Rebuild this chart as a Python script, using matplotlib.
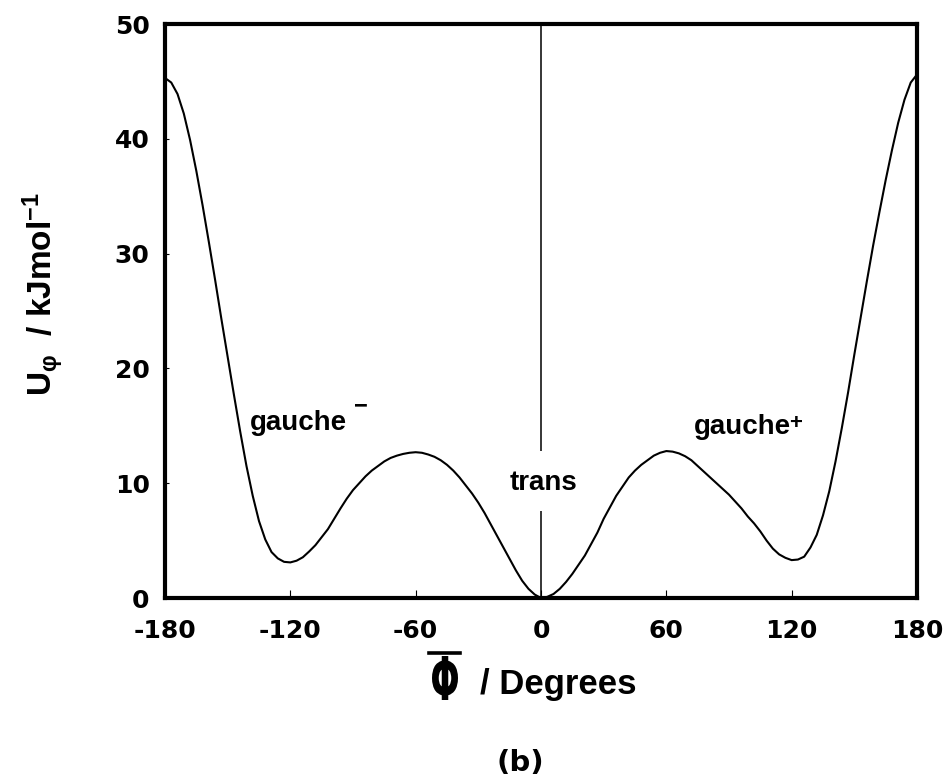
import matplotlib
matplotlib.use("Agg")
import matplotlib.pyplot as plt
from matplotlib import transforms
from matplotlib.font_manager import FontProperties
from matplotlib.lines import Line2D
from matplotlib.patches import PathPatch
from matplotlib.textpath import TextPath

plt.rcParams["font.family"] = ["DejaVu Sans"]
plt.rcParams["font.weight"] = "bold"
plt.rcParams["axes.unicode_minus"] = False
plt.rcParams["mathtext.fontset"] = "custom"
plt.rcParams["mathtext.rm"] = "Liberation Sans:bold"
plt.rcParams["mathtext.it"] = "Liberation Sans:bold"
plt.rcParams["mathtext.bf"] = "Liberation Sans:bold"

# torsion angle (degrees) and torsional energy (kJ/mol)
phi = [-180, -177, -174, -171, -168, -165, -162, -159, -156, -153, -150,
       -147, -144, -141, -138, -135, -132, -129, -126, -123, -120,
       -117, -114, -111, -108, -105, -102, -99, -96, -93, -90,
       -87, -84, -81, -78, -75, -72, -69, -66, -63, -60,
       -57, -54, -51, -48, -45, -42, -39, -36, -33, -30,
       -27, -24, -21, -18, -15, -12, -9, -6, -3, 0,
       3, 6, 9, 12, 15, 18, 21, 24, 27, 30,
       33, 36, 39, 42, 45, 48, 51, 54, 57, 60,
       63, 66, 69, 72, 75, 78, 81, 84, 87, 90,
       93, 96, 99, 102, 105, 108, 111, 114, 117, 120,
       123, 126, 129, 132, 135, 138, 141, 144, 147, 150,
       153, 156, 159, 162, 165, 168, 171, 174, 177, 180]
u = [45.3, 44.9, 43.9, 42.2, 39.9, 37.2, 34.2, 31.0, 27.7, 24.3, 21.0,
     17.7, 14.5, 11.5, 8.9, 6.7, 5.1, 4.0, 3.45, 3.15, 3.1,
     3.25, 3.55, 4.05, 4.6, 5.3, 6.0, 6.9, 7.8, 8.65, 9.4,
     10.0, 10.6, 11.1, 11.5, 11.9, 12.2, 12.4, 12.55, 12.65, 12.7,
     12.65, 12.5, 12.3, 12.0, 11.6, 11.1, 10.5, 9.8, 9.1, 8.3,
     7.4, 6.4, 5.4, 4.4, 3.4, 2.4, 1.5, 0.8, 0.3, 0.0,
     0.1, 0.35, 0.8, 1.4, 2.1, 2.9, 3.7, 4.7, 5.7, 6.9,
     7.9, 8.9, 9.7, 10.5, 11.1, 11.6, 12.0, 12.4, 12.65, 12.8,
     12.75, 12.6, 12.35, 12.0, 11.5, 11.0, 10.5, 10.0, 9.5, 9.0,
     8.4, 7.8, 7.1, 6.5, 5.8, 5.0, 4.3, 3.8, 3.5, 3.3,
     3.35, 3.6, 4.4, 5.5, 7.2, 9.3, 11.9, 14.8, 17.9, 21.2,
     24.4, 27.6, 30.7, 33.6, 36.4, 39.0, 41.4, 43.4, 44.9, 45.6]

xticks = [-180, -120, -60, 0, 60, 120, 180]
yticks = [0, 10, 20, 30, 40, 50]

W, H = 944, 781
fig = plt.figure(figsize=(W / 100, H / 100), dpi=100)
ax = fig.add_axes([165 / W, 1 - 598 / H, (917 - 165) / W, (598 - 24) / H])

# pixel coordinates measured from the top-left corner of the figure
px = transforms.Affine2D().scale(1 / W, -1 / H).translate(0, 1) + fig.transFigure

ax.plot(phi, u, color="black", lw=1.5, solid_joinstyle="round")

# marker line for the trans position, broken around its label
ax.vlines(0, 12.8, 50, color="black", lw=1.1)
ax.vlines(0, 0, 7.6, color="black", lw=1.1)

ax.set_xlim(-180, 180)
ax.set_ylim(0, 50)
ax.set_xticks(xticks)
ax.set_yticks(yticks)
ax.tick_params(axis="x", direction="in", length=6, width=0.8, pad=15,
               labelsize=18)
ax.tick_params(axis="y", direction="in", length=3, width=0.8, pad=11,
               labelsize=18)
for sp in ax.spines.values():
    sp.set_linewidth(3.0)

lab = dict(family="Liberation Sans", weight="bold", color="black")
ax.text(-139.5, 14.6, "gauche", fontsize=20, ha="left", va="baseline", **lab)
ax.text(-89.5, 16.2, "\u2212", fontsize=17, ha="left", va="baseline", **lab)
ax.text(73.1, 14.3, "gauche", fontsize=20, ha="left", va="baseline", **lab)
ax.text(119.0, 14.7, "+", fontsize=16, ha="left", va="baseline", **lab)
ax.text(1.0, 9.4, "trans", fontsize=20, ha="center", va="baseline", **lab)

# y axis title
fig.text(43, 294, "U$_{\u03c6}$  / kJmol$^{-1}$", transform=px, rotation=90,
         ha="center", va="center", fontsize=24, **lab)

# x axis title: capital phi with a bar, then the unit
glyph = TextPath((0, 0), "\u03a6", size=1,
                 prop=FontProperties(family="DejaVu Sans", weight="bold"))
ext = glyph.get_extents()
gx0, gx1, gtop, gbot = 432, 458, 656, 700
gtr = (transforms.Affine2D()
       .translate(-ext.x0, -ext.y0)
       .scale((gx1 - gx0) / ext.width, (gbot - gtop) / ext.height)
       .translate(gx0, H - gbot)
       + transforms.Affine2D().scale(1 / W, 1 / H) + fig.transFigure)
fig.add_artist(PathPatch(glyph, transform=gtr, facecolor="black", lw=0))
fig.add_artist(Line2D([429, 460], [653, 653], transform=px, color="black",
                      lw=2.6))
fig.text(480, 694, "/ Degrees", transform=px, ha="left", va="baseline",
         fontsize=25, **lab)

fig.text(520, 763, "(b)", transform=px, ha="center", va="center",
         fontsize=21, family="DejaVu Sans", weight="bold")

fig.savefig("out.png", dpi=100, facecolor="white")
